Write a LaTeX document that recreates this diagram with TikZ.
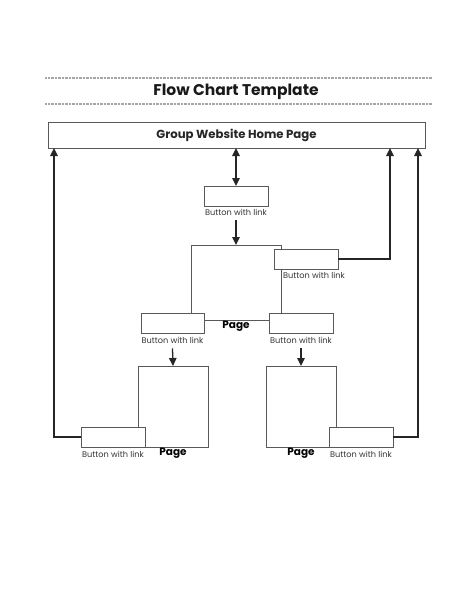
\documentclass[tikz,border=0pt]{standalone}
\usepackage{fontspec}
\setmainfont{Poppins}
\usetikzlibrary{arrows.meta,calc}
\begin{document}
\begin{tikzpicture}[x=1pt,y=-1pt,
  box/.style={draw=black!65,line width=0.8pt,fill=white,inner sep=0pt,outer sep=0pt},
  btn/.style={box,minimum width=64pt,minimum height=20pt},
  pagebox/.style={draw=black!65,line width=0.8pt,inner sep=0pt,outer sep=0pt},
  lbl/.style={font=\fontsize{8.2}{9}\selectfont,text=black!80,inner sep=0pt},
  plbl/.style={font=\bfseries\fontsize{10.5}{12}\selectfont,inner sep=0pt},
  conn/.style={draw=black!85,line width=1.3pt},
  arr/.style={conn,-{Triangle[width=7.5pt,length=8pt]}},
  rule/.style={draw=black!35,line width=2.2pt,dash pattern=on 1pt off 0.4pt}]
\useasboundingbox (0,0) rectangle (474,613);
% rules and title
\coordinate (r1a) at (45,78); \coordinate (r1b) at (432,78);
\coordinate (r2a) at (45,104); \coordinate (r2b) at (432,104);
\draw[rule] (r1a) -- (r1b);
\draw[rule] (r2a) -- (r2b);
\node[font=\bfseries\fontsize{15.5}{18}\selectfont,text=black!90,inner sep=0pt] (title) at (236,92) {Flow Chart Template};
% home
\node[box,minimum width=377pt,minimum height=26pt,font=\bfseries\fontsize{11.7}{13}\selectfont,text=black!85] (home) at (236.5,135) {Group Website Home Page};
% pages
\node[pagebox,minimum width=90pt,minimum height=75pt] (p1) at (236,282.5) {};
\node[pagebox,minimum width=70pt,minimum height=81pt] (p2) at (173,406.5) {};
\node[pagebox,minimum width=70pt,minimum height=81pt] (p3) at (301,406.5) {};
% buttons
\node[btn] (b1) at (236,196) {};
\node[lbl] (l1) at (236,212) {Button with link};
\node[btn] (b2) at (306,259) {};
\node[lbl,anchor=west] (l2) at (283,275) {Button with link};
\node[btn,minimum width=63pt] (b3) at (172.5,323.5) {};
\node[lbl] (l3) at (172.5,340) {Button with link};
\node[btn] (b4) at (301,323.5) {};
\node[lbl] (l4) at (301,340) {Button with link};
\node[plbl] (pl1) at (236,326) {Page};
\node[btn] (b5) at (113,437) {};
\node[lbl] (l5) at (113,454) {Button with link};
\node[plbl] (pl2) at (173,453) {Page};
\node[btn] (b6) at (361,437) {};
\node[lbl] (l6) at (361,454) {Button with link};
\node[plbl] (pl3) at (301,453) {Page};
% connectors
\draw[conn,{Triangle[width=7.5pt,length=8pt]}-{Triangle[width=7.5pt,length=8pt]}] (home.south -| b1.north) -- (b1.north);
\draw[arr] ($(l1.south)+(0,5)$) -- (p1.north);
\draw[arr] ($(l3.south)+(0,5)$) -- (p2.north);
\draw[arr] ($(l4.south)+(0,5)$) -- (p3.north);
\coordinate (c2) at (390,259);
\draw[arr] (b2.east) -- (c2) -- (c2 |- home.south);
\coordinate (c5) at (54,437);
\draw[arr] (b5.west) -- (c5) -- (c5 |- home.south);
\coordinate (c6) at (418,437);
\draw[arr] (b6.east) -- (c6) -- (c6 |- home.south);
\end{tikzpicture}
\end{document}
